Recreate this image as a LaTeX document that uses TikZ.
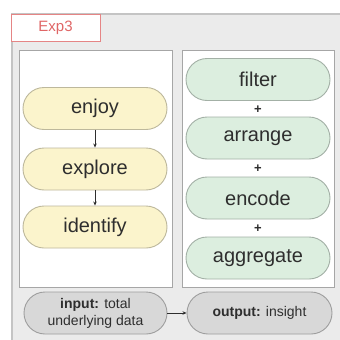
\documentclass[tikz,border=0pt]{standalone}
\usepackage{fontspec}
\setmainfont{Liberation Sans}
\usetikzlibrary{arrows.meta}
\definecolor{bgGray}{HTML}{EBEBEB}
\definecolor{bgLine}{HTML}{C4C4C4}
\definecolor{panelLine}{HTML}{A6A6A6}
\definecolor{tabRed}{HTML}{E58585}
\definecolor{tabText}{HTML}{E06666}
\definecolor{yelFill}{HTML}{FBF4CC}
\definecolor{yelLine}{HTML}{BDB89C}
\definecolor{grnFill}{HTML}{DCEEDF}
\definecolor{grnLine}{HTML}{A3B0A6}
\definecolor{gryFill}{HTML}{D8D8D8}
\definecolor{gryLine}{HTML}{9E9E9E}
\definecolor{txtDark}{HTML}{2E2E2E}
\tikzset{
  pill/.style={draw, line width=0.9pt, rounded corners=21pt,
    minimum width=144pt, minimum height=42pt, inner sep=0pt,
    text=txtDark, font=\fontsize{20}{22}\selectfont},
  yelpill/.style={pill, fill=yelFill, draw=yelLine},
  grnpill/.style={pill, fill=grnFill, draw=grnLine},
  iopill/.style={draw=gryLine, fill=gryFill, line width=0.9pt,
    rounded corners=21pt, minimum width=144pt, minimum height=42pt,
    inner sep=0pt, text=txtDark, align=center,
    font=\fontsize{14}{17}\selectfont},
  panel/.style={draw=panelLine, fill=white, line width=1pt},
  flow/.style={draw=txtDark, line width=0.8pt, -{Stealth[length=4pt,width=3.5pt]}},
  plus/.style={text=txtDark, font=\bfseries\fontsize{13}{13}\selectfont, inner sep=0pt}
}
\begin{document}
\begin{tikzpicture}[x=1pt, y=-1pt]
\useasboundingbox (0,0) rectangle (340,340);
% grey frame
\fill[bgGray] (12,14) rectangle (345,345);
\draw[bgLine, line width=1.6pt] (12,345) -- (12,14) -- (345,14);
% tab
\node[draw=tabRed, fill=white, line width=1pt, minimum width=89pt, minimum height=27pt,
  inner sep=0pt, text=tabText, font=\fontsize{15}{15}\selectfont] (tab) at (55.5,27.5) {Exp3};
% panels
\draw[panel] (19,50) rectangle (172,287);
\draw[panel] (182,50) rectangle (334,287);
% left column
\node[yelpill] (enjoy) at (95,108.5) {enjoy};
\node[yelpill] (explore) at (95,169) {explore};
\node[yelpill] (identify) at (95,227) {identify};
\draw[flow] (enjoy) -- (explore);
\draw[flow] (explore) -- (identify);
% right column
\node[grnpill] (filter) at (258,79.5) {filter};
\node[grnpill] (arrange) at (258,138) {arrange};
\node[grnpill] (encode) at (258,198) {encode};
\node[grnpill] (aggregate) at (258,258) {aggregate};
\node[plus] (p1) at (258,109.5) {+};
\node[plus] (p2) at (258,168.5) {+};
\node[plus] (p3) at (258,228.5) {+};
% input / output
\node[iopill, minimum width=143pt] (input) at (95.5,313) {\textbf{input:} total\\underlying data};
\node[iopill, minimum width=145pt] (output) at (259.5,313) {\textbf{output:} insight};
\draw[flow] (input) -- (output);
\end{tikzpicture}
\end{document}
